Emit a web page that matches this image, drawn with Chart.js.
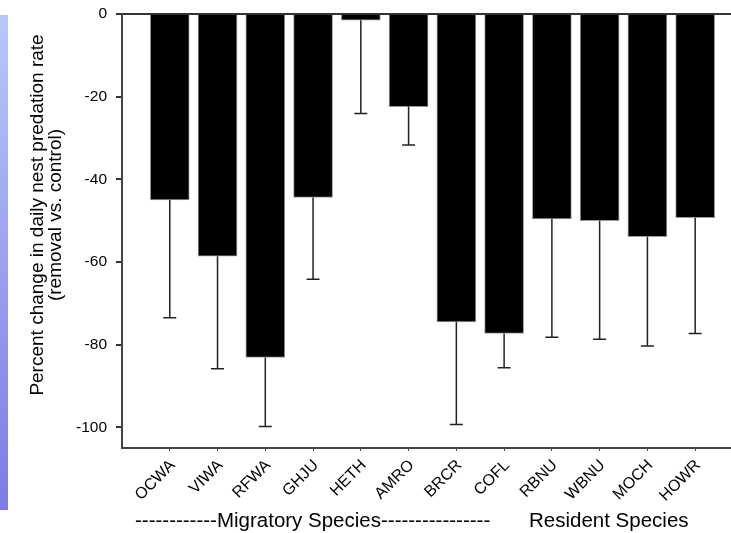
<!DOCTYPE html>
<html>
<head>
<meta charset="utf-8">
<script src="https://cdn.jsdelivr.net/npm/chart.js@4"></script>
<style>
  body { margin: 0; background: #fff; overflow: hidden; }
  #wrap { position: relative; width: 731px; height: 533px; }
  #strip {
    position: absolute; left: 0; top: 15px; width: 8px; height: 495px;
    background: linear-gradient(#b8c8f8, #7c7ce4);
  }
  #cfChart { position: absolute; left: 0; top: 0; }
</style>
</head>
<body>
<div id="wrap">
  <div id="strip"></div>
  <canvas id="cfChart" width="731" height="533"></canvas>
</div>
<script>
const species = ["OCWA", "VIWA", "RFWA", "GHJU", "HETH", "AMRO", "BRCR", "COFL", "RBNU", "WBNU", "MOCH", "HOWR"];
const change = [-45.0, -58.6, -83.1, -44.4, -1.5, -22.4, -74.5, -77.3, -49.6, -50.0, -53.9, -49.3];
const errors = [28.5, 27.2, 16.7, 19.8, 22.6, 9.3, 24.8, 8.3, 28.6, 28.7, 26.4, 28.0];
const yTicks = [0, -20, -40, -60, -80, -100];
const yTitle = ["Percent change in daily nest predation rate", "(removal vs. control)"];
const groupLabels = ["------------Migratory Species----------------", "Resident Species"];

Chart.defaults.font.family = "'Liberation Sans', Arial, sans-serif";
Chart.defaults.color = "#000";

// error bars hanging below each bar
const errorBars = {
  id: "errorBars",
  afterDatasetsDraw(chart) {
    const ctx = chart.ctx;
    const y = chart.scales.y;
    const meta = chart.getDatasetMeta(0);
    ctx.save();
    ctx.strokeStyle = "#222";
    ctx.lineWidth = 1.5;
    meta.data.forEach((bar, i) => {
      const y0 = y.getPixelForValue(change[i]);
      const y1 = y.getPixelForValue(change[i] - errors[i]);
      ctx.beginPath();
      ctx.moveTo(bar.x, y0);
      ctx.lineTo(bar.x, y1);
      ctx.moveTo(bar.x - 6.5, y1);
      ctx.lineTo(bar.x + 6.5, y1);
      ctx.stroke();
    });
    ctx.restore();
  },
};

// y title and the two group captions under the axis
const extraText = {
  id: "extraText",
  afterDraw(chart) {
    const ctx = chart.ctx;
    const area = chart.chartArea;
    ctx.save();
    ctx.fillStyle = "#000";
    ctx.textAlign = "center";
    ctx.textBaseline = "middle";
    ctx.font = "19px 'Liberation Sans', Arial, sans-serif";
    ctx.translate(38, 215);
    ctx.rotate(-Math.PI / 2);
    ctx.fillText(yTitle[0], 0, 0);
    ctx.fillText(yTitle[1], 0, 18);
    ctx.restore();

    ctx.save();
    ctx.fillStyle = "#000";
    ctx.textAlign = "left";
    ctx.textBaseline = "middle";
    ctx.font = "20.5px 'Liberation Sans', Arial, sans-serif";
    ctx.fillText(groupLabels[0], area.left + 13, area.bottom + 73);
    ctx.fillText(groupLabels[1], area.left + 407, area.bottom + 73);
    ctx.restore();
  },
};

new Chart(document.getElementById("cfChart").getContext("2d"), {
  type: "bar",
  data: {
    datasets: [
      {
        data: change.map((v, i) => ({ x: i, y: v })),
        backgroundColor: "#000",
        borderColor: "#9a9a9a",
        borderWidth: 1,
        barThickness: 39,
      },
    ],
  },
  options: {
    responsive: false,
    animation: false,
    layout: { padding: { top: 14, left: 0, right: 0, bottom: 0 } },
    plugins: { legend: { display: false }, tooltip: { enabled: false } },
    scales: {
      x: {
        type: "linear",
        offset: false,
        min: -1,
        max: 11.75,
        afterBuildTicks: (scale) => {
          scale.ticks = species.map((_, i) => ({ value: i }));
        },
        afterFit: (scale) => {
          scale.height = 85;
        },
        ticks: {
          autoSkip: false,
          minRotation: 45,
          maxRotation: 45,
          padding: 5,
          labelOffset: 3,
          font: { size: 16 },
          callback: (v) => species[v],
        },
        grid: { offset: false, drawOnChartArea: false, tickLength: 3, color: "#555" },
        border: { color: "#444", width: 2 },
      },
      y: {
        min: -105,
        max: 0,
        afterBuildTicks: (scale) => {
          scale.ticks = yTicks.map((v) => ({ value: v }));
        },
        afterFit: (scale) => {
          scale.width = 122;
          scale.paddingTop = 0;
          scale.paddingBottom = 0;
        },
        ticks: { padding: 9, font: { size: 15.5 } },
        grid: {
          color: (c) => (c.tick && c.tick.value === 0 ? "#333" : "rgba(0,0,0,0)"),
          lineWidth: 2,
          tickColor: "#333",
          tickLength: 6,
        },
        border: { color: "#444", width: 2 },
      },
    },
  },
  plugins: [errorBars, extraText],
});
</script>
</body>
</html>
